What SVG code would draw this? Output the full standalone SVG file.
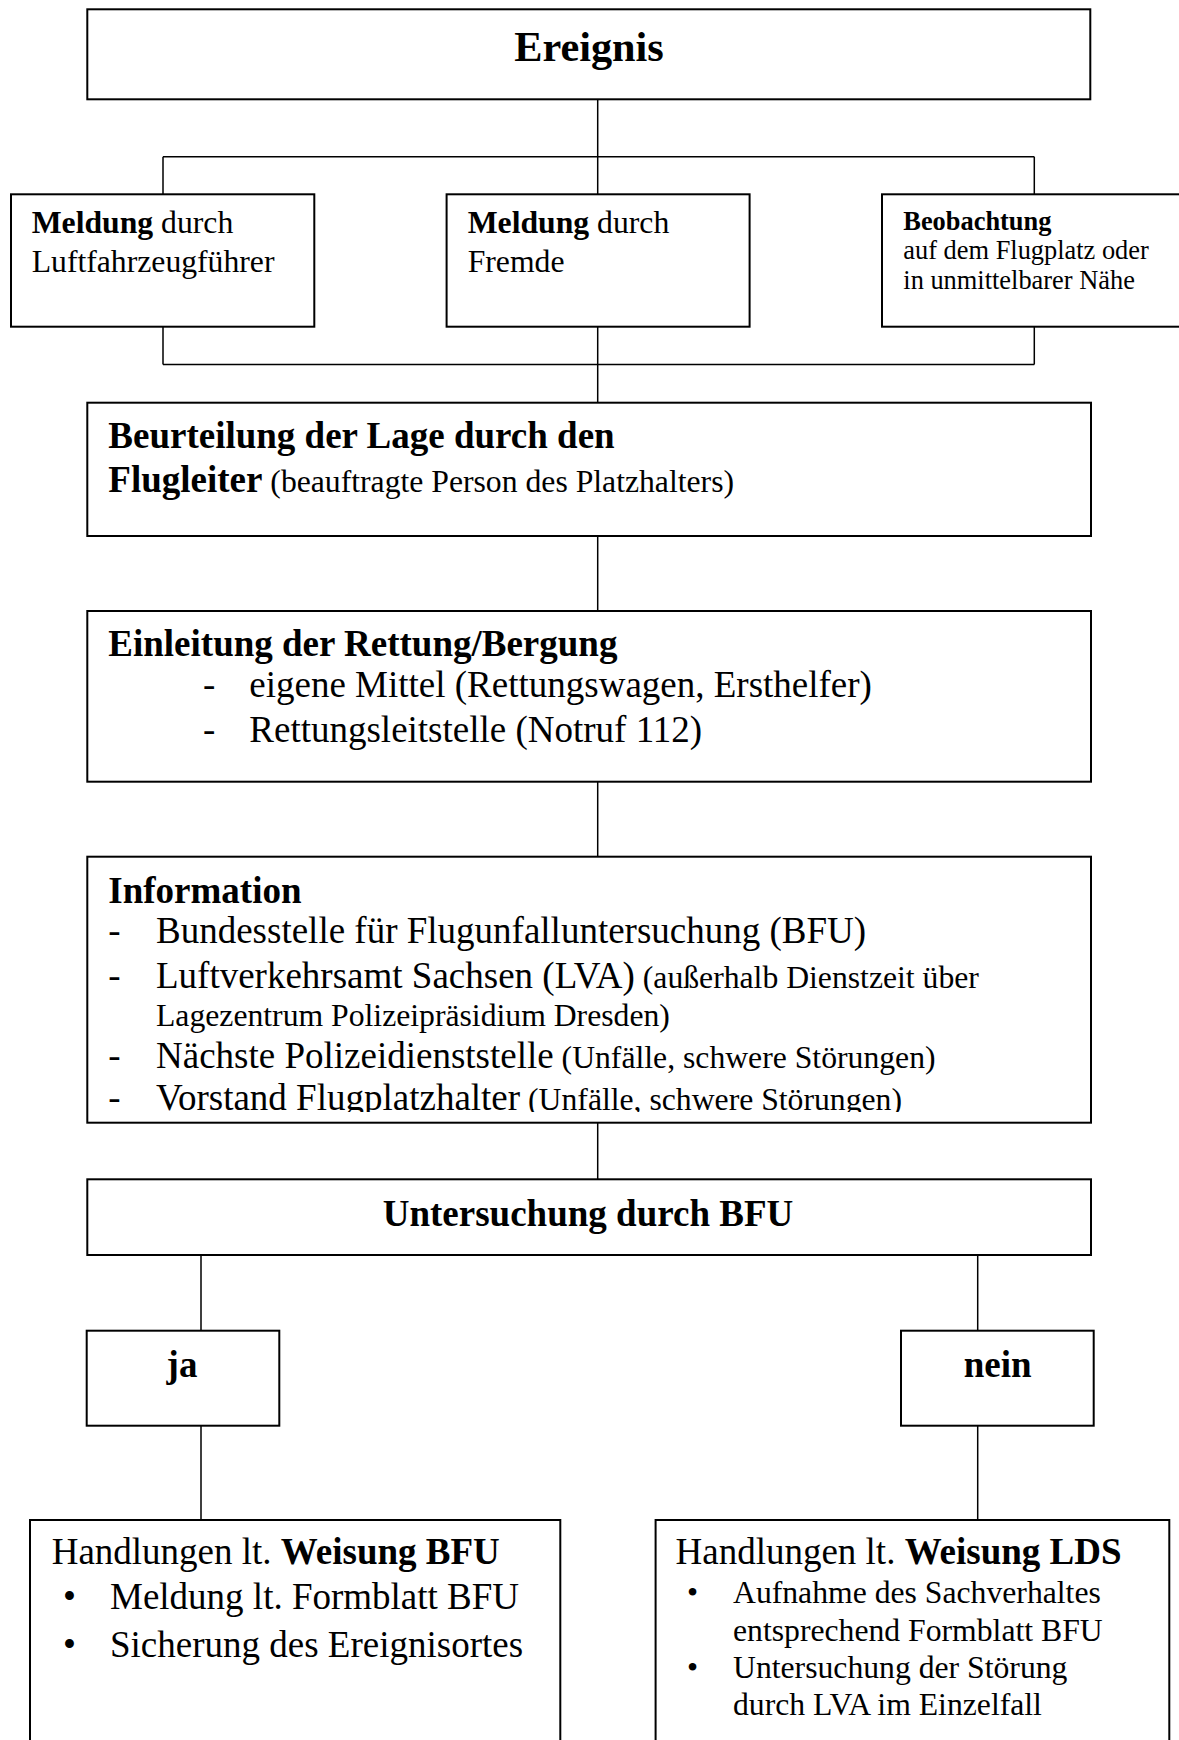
<svg xmlns="http://www.w3.org/2000/svg" width="1179" height="1740" viewBox="0 0 1179 1740">
  <style>
    .box { fill: #ffffff; stroke: #000000; stroke-width: 2; }
    .conn { fill: none; stroke: #000000; stroke-width: 1.5; }
    text { font-family: "Liberation Serif", "Times New Roman", serif; fill: #000000; }
    .b { font-weight: bold; }
    .s42 { font-size: 42.3px; }
    .s37 { font-size: 37px; }
    .s32 { font-size: 31.7px; }
    .s26 { font-size: 26.4px; }
  </style>
  <defs>
    <clipPath id="infoClip">
      <rect x="88" y="857" width="1002" height="255"/>
    </clipPath>
  </defs>
  <rect x="0" y="0" width="1179" height="1740" fill="#ffffff"/>

  <g id="connectors">
    <path class="conn" d="M597.7,99.3 V156.7 M163,156.7 H1034.3 M163,156.7 V194.3 M597.7,156.7 V194.3 M1034.3,156.7 V194.3"/>
    <path class="conn" d="M163,326.7 V364.5 M597.7,326.7 V364.5 M1034.3,326.7 V364.5 M163,364.5 H1034.3 M597.7,364.5 V402.7"/>
    <path class="conn" d="M597.7,536 V611"/>
    <path class="conn" d="M597.7,781.7 V856.7"/>
    <path class="conn" d="M597.7,1122.7 V1179.3"/>
    <path class="conn" d="M201,1255 V1330.7 M201,1425.7 V1520"/>
    <path class="conn" d="M977.7,1255 V1330.7 M977.7,1425.7 V1520"/>
  </g>

  <g id="ereignis">
    <rect class="box" x="87.3" y="9.3" width="1003" height="90"/>
    <text class="b s42" x="589" y="61" text-anchor="middle">Ereignis</text>
  </g>

  <g id="meldung-pilot">
    <rect class="box" x="11" y="194.3" width="303.3" height="132.4"/>
    <text class="s32" x="31.7" y="233"><tspan class="b">Meldung</tspan> durch</text>
    <text class="s32" x="31.7" y="272">Luftfahrzeugführer</text>
  </g>

  <g id="meldung-fremde">
    <rect class="box" x="446.6" y="194.3" width="303" height="132.4"/>
    <text class="s32" x="467.7" y="233"><tspan class="b">Meldung</tspan> durch</text>
    <text class="s32" x="467.7" y="272">Fremde</text>
  </g>

  <g id="beobachtung">
    <rect class="box" x="882" y="194.3" width="300" height="132.4"/>
    <text class="b s26" x="903.3" y="230">Beobachtung</text>
    <text class="s26" x="903.3" y="259.3">auf dem Flugplatz oder</text>
    <text class="s26" x="903.3" y="289.3">in unmittelbarer Nähe</text>
  </g>

  <g id="beurteilung">
    <rect class="box" x="87.3" y="402.7" width="1003.7" height="133.3"/>
    <text class="b s37" x="108.3" y="448.3">Beurteilung der Lage durch den</text>
    <text class="s37" x="108.3" y="492.3"><tspan class="b">Flugleiter</tspan><tspan class="s32"> (beauftragte Person des Platzhalters)</tspan></text>
  </g>

  <g id="einleitung">
    <rect class="box" x="87.3" y="611" width="1003.7" height="170.7"/>
    <text class="b s37" x="108.3" y="656">Einleitung der Rettung/Bergung</text>
    <text class="s37" x="203" y="696.7">-</text>
    <text class="s37" x="249.3" y="696.7">eigene Mittel (Rettungswagen, Ersthelfer)</text>
    <text class="s37" x="203" y="741.7">-</text>
    <text class="s37" x="249.3" y="741.7">Rettungsleitstelle (Notruf 112)</text>
  </g>

  <g id="information">
    <rect class="box" x="87.3" y="856.7" width="1003.7" height="266"/>
    <text class="b s37" x="108.3" y="902.7">Information</text>
    <text class="s37" x="108.3" y="942.7">-</text>
    <text class="s37" x="156" y="942.7">Bundesstelle für Flugunfalluntersuchung (BFU)</text>
    <text class="s37" x="108.3" y="987.7">-</text>
    <text class="s37" x="156" y="987.7">Luftverkehrsamt Sachsen (LVA)<tspan class="s32"> (außerhalb Dienstzeit über</tspan></text>
    <text class="s32" x="156" y="1026">Lagezentrum Polizeipräsidium Dresden)</text>
    <text class="s37" x="108.3" y="1068.3">-</text>
    <text class="s37" x="156" y="1068.3">Nächste Polizeidienststelle<tspan class="s32"> (Unfälle, schwere Störungen)</tspan></text>
    <g clip-path="url(#infoClip)">
      <text class="s37" x="108.3" y="1110">-</text>
      <text class="s37" x="156" y="1110">Vorstand Flugplatzhalter<tspan class="s32"> (Unfälle, schwere Störungen)</tspan></text>
    </g>
  </g>

  <g id="untersuchung">
    <rect class="box" x="87.3" y="1179.3" width="1003.7" height="75.7"/>
    <text class="b s37" x="588" y="1225.5" text-anchor="middle">Untersuchung durch BFU</text>
  </g>

  <g id="ja">
    <rect class="box" x="86.7" y="1330.7" width="192.6" height="95"/>
    <text class="b s37" x="182" y="1376.7" text-anchor="middle">ja</text>
  </g>

  <g id="nein">
    <rect class="box" x="901" y="1330.7" width="192.7" height="95"/>
    <text class="b s37" x="997.7" y="1376.7" text-anchor="middle">nein</text>
  </g>

  <g id="weisung-bfu">
    <rect class="box" x="30" y="1520" width="530.3" height="230"/>
    <text class="s37" x="51.7" y="1564.3">Handlungen lt. <tspan class="b">Weisung BFU</tspan></text>
    <text class="s37" x="63" y="1609.3">•</text>
    <text class="s37" x="110" y="1609.3">Meldung lt. Formblatt BFU</text>
    <text class="s37" x="63" y="1657.3">•</text>
    <text class="s37" x="110" y="1657.3">Sicherung des Ereignisortes</text>
  </g>

  <g id="weisung-lds">
    <rect class="box" x="655.6" y="1520" width="513.7" height="230"/>
    <text class="s37" x="675.5" y="1564.3">Handlungen lt. <tspan class="b">Weisung LDS</tspan></text>
    <text class="s32" x="687" y="1603.3">•</text>
    <text class="s32" x="733" y="1603.3">Aufnahme des Sachverhaltes</text>
    <text class="s32" x="733" y="1640.7">entsprechend Formblatt BFU</text>
    <text class="s32" x="687" y="1678.3">•</text>
    <text class="s32" x="733" y="1678.3">Untersuchung der Störung</text>
    <text class="s32" x="733" y="1715">durch LVA im Einzelfall</text>
  </g>
</svg>
